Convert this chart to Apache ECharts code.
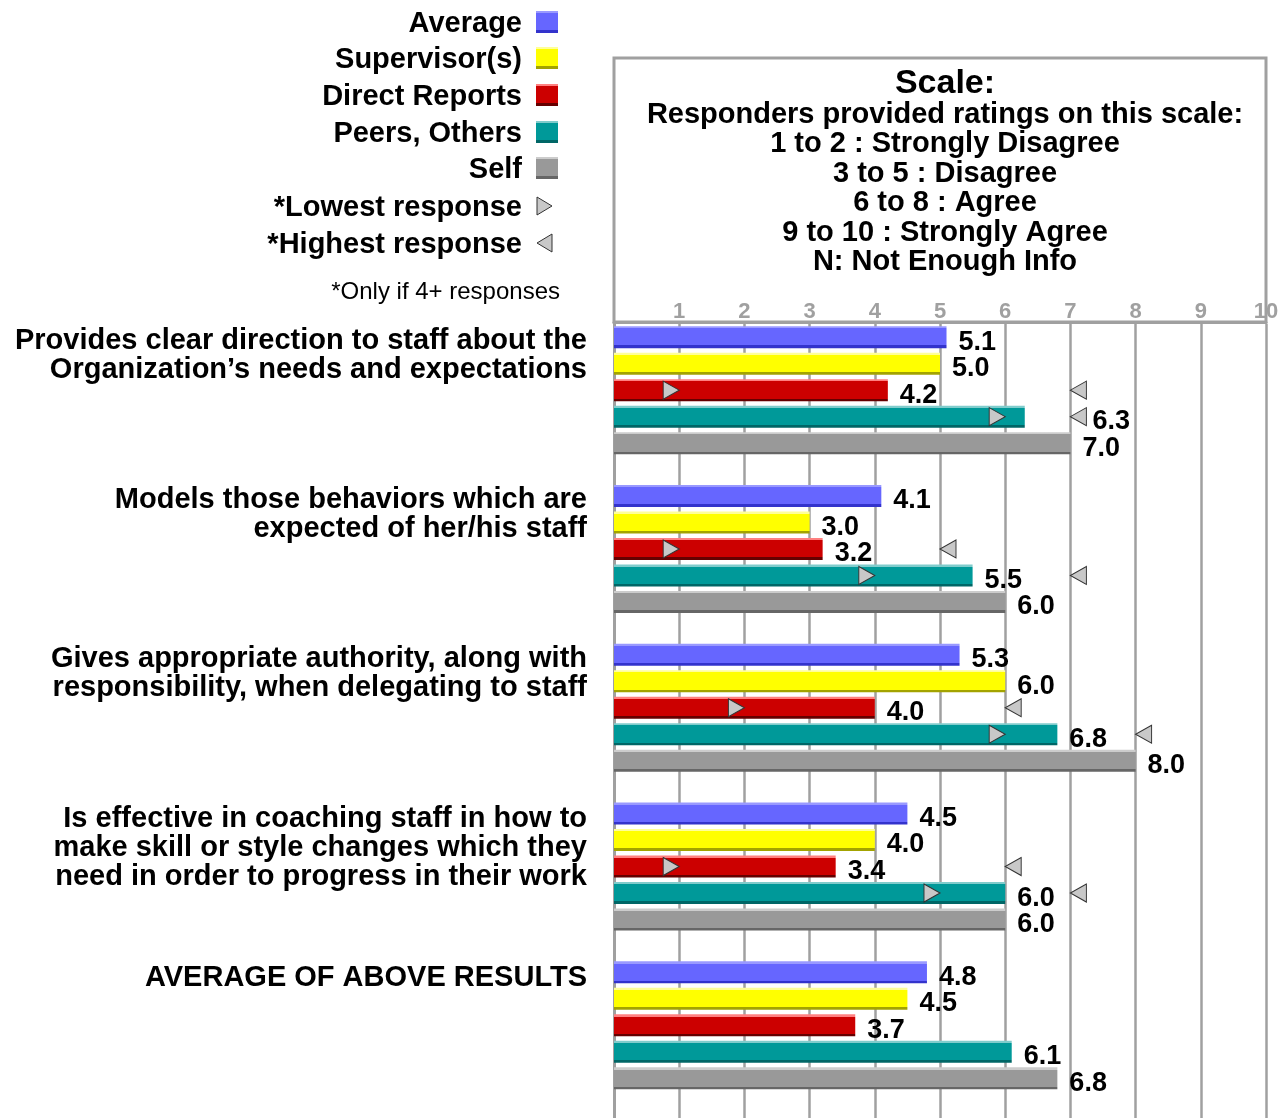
<!DOCTYPE html>
<html>
<head>
<meta charset="utf-8">
<script src="https://cdn.jsdelivr.net/npm/echarts@6/dist/echarts.min.js"></script>
<style>
  html, body { margin: 0; padding: 0; background: #fff; }
  #chart { width: 1284px; height: 1118px; }
</style>
</head>
<body>
<div id="chart"></div>
<script>
// DATA
var categories = [
    'Provides clear direction to staff about the\nOrganization\u2019s needs and expectations',
    'Models those behaviors which are\nexpected of her/his staff',
    'Gives appropriate authority, along with\nresponsibility, when delegating to staff',
    'Is effective in coaching staff in how to\nmake skill or style changes which they\nneed in order to progress in their work',
    'AVERAGE OF ABOVE RESULTS'
];
var seriesNames = ['Average', 'Supervisor(s)', 'Direct Reports', 'Peers, Others', 'Self'];
var average       = [5.1, 4.1, 5.3, 4.5, 4.8];
var supervisors   = [5.0, 3.0, 6.0, 4.0, 4.5];
var directReports = [4.2, 3.2, 4.0, 3.4, 3.7];
var peers         = [6.3, 5.5, 6.8, 6.0, 6.1];
var self          = [7.0, 6.0, 8.0, 6.0, 6.8];

// lowest / highest responses (only if 4+ responses)
var drLowest     = [1, 1, 2, 1, null];
var drHighest    = [7, 5, 6, 6, null];
var peersLowest  = [6, 4, 6, 5, null];
var peersHighest = [7, 7, 8, 7, null];

var tickLabels = ['', '1', '2', '3', '4', '5', '6', '7', '8', '9', '10'];
var scaleLines = [
    'Responders provided ratings on this scale:',
    '1 to 2 : Strongly Disagree',
    '3 to 5 : Disagree',
    '6 to 8 : Agree',
    '9 to 10 : Strongly Agree',
    'N: Not Enough Info'
];

// colours: main, light edge, dark edge
var palette = [
    ['#6666ff', '#9999ff', '#3333cc'],
    ['#ffff00', '#ffff99', '#a3a300'],
    ['#cc0000', '#ff8080', '#660000'],
    ['#009999', '#80cccc', '#006666'],
    ['#999999', '#cccccc', '#666666']
];

var FONT = "'Liberation Sans', Arial, sans-serif";
var GRID_COLOR = '#a0a0a0';
var PX_PER_UNIT = 65.2;
var TXT = 29; // bold text size

function bevel(c) {
    return new echarts.graphic.LinearGradient(0, 0, 0, 1, [
        {offset: 0, color: c[1]}, {offset: 0.1, color: c[1]},
        {offset: 0.1, color: c[0]}, {offset: 0.88, color: c[0]},
        {offset: 0.88, color: c[2]}, {offset: 1, color: c[2]}
    ]);
}

// push the value label past a "highest" marker sitting just right of the bar
function withLabels(values, highs) {
    return values.map(function (v, i) {
        var h = highs ? highs[i] : null;
        if (h != null && h > v && (h - v) * PX_PER_UNIT < 60) {
            return {value: v, label: {distance: (h - v) * PX_PER_UNIT + 22}};
        }
        return v;
    });
}

function barSeries(name, values, idx, highs) {
    return {
        name: name,
        type: 'bar',
        barWidth: 22,
        barGap: '20.5%',
        data: withLabels(values, highs),
        itemStyle: {color: bevel(palette[idx])},
        label: {
            show: true,
            position: 'right',
            distance: 12,
            offset: [0, 5],
            color: '#000',
            fontSize: 27,
            fontWeight: 'bold',
            fontFamily: FONT,
            formatter: function (p) { return p.value.toFixed(1); }
        },
        z: 2
    };
}

var slotOffset = 13.25; // half a bar slot from the category centre
var rightTri = 'path://M0,0 L16,9 L0,18 Z';
var leftTri = 'path://M16,0 L0,9 L16,18 Z';

function markerSeries(values, symbol, dx, dy) {
    var pts = [];
    values.forEach(function (v, i) { if (v != null) pts.push([v, i]); });
    return {
        type: 'scatter',
        data: pts,
        symbol: symbol,
        symbolSize: [16, 18],
        symbolOffset: [dx, dy],
        itemStyle: {color: '#c8c8c8', borderColor: '#333', borderWidth: 1, opacity: 1},
        silent: true,
        z: 5
    };
}

var chart = echarts.init(document.getElementById('chart'));

// legend drawn as graphic rows
var legendRows = [];
var rowY = [24, 60, 97, 134, 170, 208, 245];
function legendText(txt, y) {
    return {
        type: 'text', x: 522, y: y,
        style: {text: txt, textAlign: 'right', textVerticalAlign: 'middle',
                font: 'bold ' + TXT + 'px ' + FONT, fill: '#000'}
    };
}
seriesNames.forEach(function (n, i) {
    legendRows.push(legendText(n, rowY[i]));
    legendRows.push({
        type: 'rect', shape: {x: 536, y: rowY[i] - 13, width: 22, height: 22},
        style: {fill: bevel(palette[i])}
    });
});
legendRows.push(legendText('*Lowest response', rowY[5]));
legendRows.push({
    type: 'polygon', shape: {points: [[537, rowY[5] - 11], [552, rowY[5] - 2], [537, rowY[5] + 7]]},
    style: {fill: '#c8c8c8', stroke: '#333', lineWidth: 1}
});
legendRows.push(legendText('*Highest response', rowY[6]));
legendRows.push({
    type: 'polygon', shape: {points: [[552, rowY[6] - 11], [537, rowY[6] - 2], [552, rowY[6] + 7]]},
    style: {fill: '#c8c8c8', stroke: '#333', lineWidth: 1}
});
legendRows.push({
    type: 'text', x: 560, y: 292,
    style: {text: '*Only if 4+ responses', textAlign: 'right', textVerticalAlign: 'middle',
            font: '24px ' + FONT, fill: '#000'}
});
// scale box
legendRows.push({
    type: 'rect', shape: {x: 614, y: 58, width: 652, height: 264},
    style: {fill: 'none', stroke: GRID_COLOR, lineWidth: 3}, z: -1
});

var option = {
    animation: false,
    backgroundColor: '#fff',
    title: {
        left: 940,
        top: 61,
        textAlign: 'center',
        text: 'Scale:',
        textStyle: {fontSize: 34, fontWeight: 'bold', color: '#000', fontFamily: FONT, lineHeight: 36},
        subtext: scaleLines.join('\n'),
        subtextStyle: {fontSize: TXT, fontWeight: 'bold', color: '#000', fontFamily: FONT, lineHeight: 29.5},
        itemGap: -2
    },
    grid: {left: 614, top: 324, width: 652, height: 800, containLabel: false},
    xAxis: {
        type: 'value',
        position: 'top',
        offset: 2,
        min: 0,
        max: 10,
        interval: 1,
        axisLine: {show: true, lineStyle: {color: GRID_COLOR, width: 3}},
        axisTick: {show: false},
        axisLabel: {
            color: GRID_COLOR, fontSize: 22, fontWeight: 'bold', fontFamily: FONT, margin: -1,
            formatter: function (v) { return tickLabels[v]; }
        },
        splitLine: {show: true, lineStyle: {color: GRID_COLOR, width: 2.5}}
    },
    yAxis: {
        type: 'category',
        inverse: true,
        data: categories,
        axisLine: {show: true, lineStyle: {color: GRID_COLOR, width: 3}},
        axisTick: {show: false},
        axisLabel: {
            margin: 27,
            align: 'right',
            formatter: function (v) {
                var lines = v.split('\n');
                return lines.map(function (l) { return '{t|' + l + '}'; }).join('\n') +
                    '\n{sp' + lines.length + '| }';
            },
            rich: {
                t: {fontSize: TXT, fontWeight: 'bold', color: '#000', fontFamily: FONT, lineHeight: 29, align: 'right'},
                sp1: {fontSize: 10, lineHeight: 122},
                sp2: {fontSize: 10, lineHeight: 95},
                sp3: {fontSize: 10, lineHeight: 64}
            }
        }
    },
    graphic: legendRows,
    series: [
        barSeries(seriesNames[0], average, 0),
        barSeries(seriesNames[1], supervisors, 1),
        barSeries(seriesNames[2], directReports, 2, drHighest),
        barSeries(seriesNames[3], peers, 3, peersHighest),
        barSeries(seriesNames[4], self, 4),
        // empty slot below each group
        {type: 'bar', barWidth: 22, barGap: '20.5%', data: ['-', '-', '-', '-', '-'], silent: true},
        // DR slot sits half a slot above the category centre, peers half below
        markerSeries(drLowest, rightTri, -8, -slotOffset),
        markerSeries(drHighest, leftTri, 8, -slotOffset),
        markerSeries(peersLowest, rightTri, -8, slotOffset),
        markerSeries(peersHighest, leftTri, 8, slotOffset)
    ]
};

chart.setOption(option);
</script>
</body>
</html>
